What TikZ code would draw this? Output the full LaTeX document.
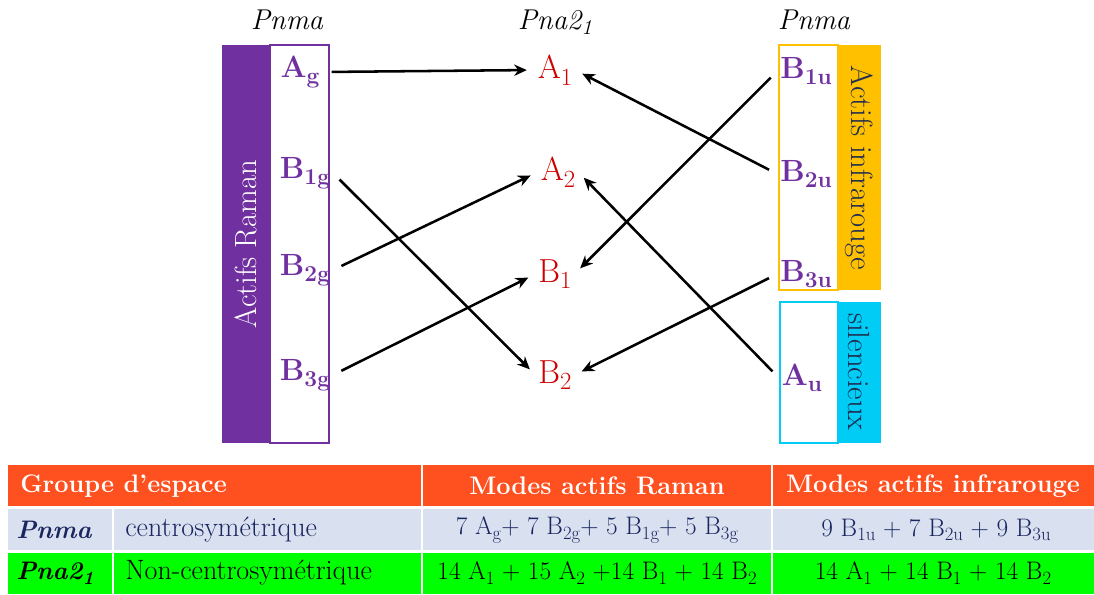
\documentclass[tikz,border=0pt]{standalone}
\usetikzlibrary{arrows.meta}
\definecolor{purp}{HTML}{7030A0}
\definecolor{redc}{HTML}{D00000}
\definecolor{orng}{HTML}{FFC000}
\definecolor{cyanc}{HTML}{00CCF5}
\definecolor{navy}{HTML}{1F2D50}
\definecolor{hdr}{HTML}{FF5020}
\definecolor{rowa}{HTML}{D9E1F0}
\definecolor{rowb}{HTML}{00FF00}
\definecolor{tnavy}{HTML}{1A2660}
\newcommand\lsub[1]{\raisebox{-0.45ex}{\scalebox{0.74}{#1}}}
\begin{document}
\begin{tikzpicture}[x=0.75pt,y=-0.75pt,
 lab/.style={text=purp,font=\fontsize{23}{26}\selectfont\bfseries,inner sep=2pt},
 mid/.style={text=redc,font=\fontsize{25}{28}\selectfont,inner sep=2pt},
 head/.style={font=\fontsize{21.5}{24}\selectfont\itshape},
 arr/.style={-{Stealth[length=9.5pt,width=8.5pt]},line width=1.9pt,shorten <=7pt,shorten >=6pt},
 side/.style={font=\fontsize{23}{26}\selectfont},
 cell/.style={font=\fontsize{21}{24}\selectfont,inner sep=0pt},
 fcell/.style={font=\fontsize{19}{22}\selectfont,inner sep=0pt},
 hcell/.style={cell,text=white,font=\fontsize{19}{22}\selectfont\bfseries},
 vsep/.style={white,line width=2pt}]
\useasboundingbox (0,0) rectangle (1094,594);
% headers
\node[head] (h1) at (287,20) {Pnma};
\node[head] (h2) at (555,22) {Pna2\lsub{1}};
\node[head] (h3) at (814,20) {Pnma};
% left box
\fill[purp] (222,45) rectangle (270,443);
\draw[purp,line width=1pt] (270,45) rectangle (329,443);
\node[rotate=90,text=white,side] (raman) at (246,244) {Actifs Raman};
% right boxes
\draw[orng,line width=1pt] (779,45) rectangle (838,290);
\fill[orng] (838,45) rectangle (881,290);
\node[rotate=-90,text=navy,side] (ir) at (859,168) {Actifs infrarouge};
\draw[cyanc,line width=1pt] (780,302) rectangle (838,443);
\fill[cyanc] (838,302) rectangle (881,443);
\node[rotate=-90,text=navy,side] (sil) at (859,372) {silencieux};
% labels
\node[lab] (ag) at (300,72) {A\lsub{g}};
\node[lab] (b1g) at (305,173) {B\lsub{1g}};
\node[lab] (b2g) at (305,270) {B\lsub{2g}};
\node[lab] (b3g) at (305,375) {B\lsub{3g}};
\node[mid] (a1) at (555,70) {A\lsub{1}};
\node[mid] (a2) at (558,172) {A\lsub{2}};
\node[mid] (b1) at (555,274) {B\lsub{1}};
\node[mid] (b2) at (555,375) {B\lsub{2}};
\node[lab] (b1u) at (806,71) {B\lsub{1u}};
\node[lab] (b2u) at (806,174) {B\lsub{2u}};
\node[lab] (b3u) at (806,274) {B\lsub{3u}};
\node[lab] (au) at (802,378) {A\lsub{u}};
% arrows
\draw[arr] (ag.east) -- (a1.west);
\draw[arr] (b1g.east) -- (b2.west);
\draw[arr] (b2g.east) -- (a2.west);
\draw[arr] (b3g.east) -- (b1.west);
\draw[arr] (b1u.west) -- (b1.east);
\draw[arr] (b2u.west) -- (a1.east);
\draw[arr] (b3u.west) -- (b2.east);
\draw[arr] (au.west) -- (a2.east);
% table
\fill[hdr] (8,465) rectangle (1094,506);
\fill[rowa] (8,509) rectangle (1094,550);
\fill[rowb] (8,553) rectangle (1094,594);
\draw[vsep] (422,465) -- (422,594);
\draw[vsep] (772,465) -- (772,594);
\draw[vsep] (113,509) -- (113,594);
\node[hcell,anchor=west] (t11) at (20,486) {Groupe d’espace};
\node[hcell] (t13) at (597,486) {Modes actifs Raman};
\node[hcell] (t14) at (933,486) {Modes actifs infrarouge};
\node[fcell,text=tnavy,anchor=west,font=\fontsize{19}{22}\selectfont\bfseries\itshape] (t21) at (16,530) {Pnma};
\node[cell,text=tnavy,anchor=west] (t22) at (125,530) {centrosymétrique};
\node[fcell,text=tnavy] (t23) at (597,530) {7 A\lsub{g}+ 7 B\lsub{2g}+ 5 B\lsub{1g}+ 5 B\lsub{3g}};
\node[fcell,text=tnavy] (t24) at (936,530) {9 B\lsub{1u} + 7 B\lsub{2u} + 9 B\lsub{3u}};
\node[fcell,anchor=west,font=\fontsize{19}{22}\selectfont\bfseries\itshape] (t31) at (16,573) {Pna2\lsub{1}};
\node[cell,anchor=west] (t32) at (125,573) {Non-centrosymétrique};
\node[fcell] (t33) at (597,573) {14 A\lsub{1} + 15 A\lsub{2} +14 B\lsub{1} + 14 B\lsub{2}};
\node[fcell] (t34) at (933,573) {14 A\lsub{1} + 14 B\lsub{1} + 14 B\lsub{2}};
\end{tikzpicture}
\end{document}
